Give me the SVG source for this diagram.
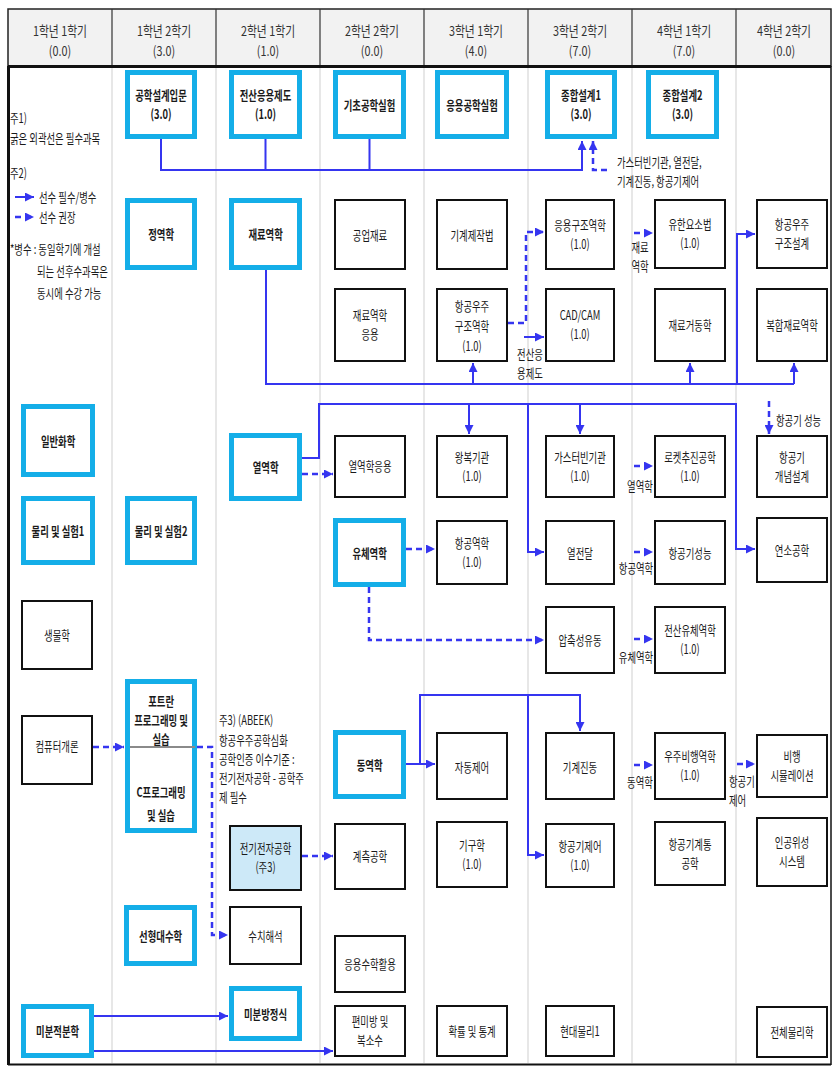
<svg xmlns="http://www.w3.org/2000/svg" width="832" height="1066" viewBox="0 0 832 1066">
<style>
.t{font-family:"Noto Sans CJK KR","Noto Sans",sans-serif;font-size:13px;fill:#1a1a1a;text-anchor:middle;transform-box:fill-box;transform-origin:center;transform:scaleX(0.72)}
.b{font-weight:700}
.h{font-size:13.5px;fill:#333;transform:scaleX(0.8)}
.l{text-anchor:start;transform-origin:left center}
.req{fill:#fff;stroke:#14aee8;stroke-width:5}
.opt{fill:#fff;stroke:#111;stroke-width:2}
.ee{fill:#cde9f8;stroke:#111;stroke-width:2}
.s{fill:none;stroke:#3535f0;stroke-width:2}
.d{fill:none;stroke:#3535f0;stroke-width:2.5;stroke-dasharray:6 4}
.a{marker-end:url(#ar)}
.sep{stroke:#cfcfcf;stroke-width:1}
</style>
<defs>
<marker id="ar" markerUnits="userSpaceOnUse" markerWidth="9" markerHeight="9" refX="9" refY="4.5" orient="auto">
<path d="M0,0 L9,4.5 L0,9 z" fill="#3535f0"/>
</marker>
</defs>

<g id="frame">
<rect x="8" y="9" width="823" height="57" fill="#f2f2f2" stroke="#222" stroke-width="1.5"/>
<g stroke="#333" stroke-width="1.2">
<line x1="112" y1="9" x2="112" y2="66"/><line x1="216" y1="9" x2="216" y2="66"/><line x1="320" y1="9" x2="320" y2="66"/><line x1="424" y1="9" x2="424" y2="66"/><line x1="528" y1="9" x2="528" y2="66"/><line x1="632" y1="9" x2="632" y2="66"/><line x1="736" y1="9" x2="736" y2="66"/>
</g>
<g class="sep">
<line x1="112" y1="68" x2="112" y2="1063"/><line x1="216" y1="68" x2="216" y2="1063"/><line x1="320" y1="68" x2="320" y2="1063"/><line x1="424" y1="68" x2="424" y2="1063"/><line x1="528" y1="68" x2="528" y2="1063"/><line x1="632" y1="68" x2="632" y2="1063"/><line x1="736" y1="68" x2="736" y2="1063"/>
</g>
<line x1="8" y1="66.5" x2="831" y2="66.5" stroke="#111" stroke-width="3"/>
<line x1="8.5" y1="66" x2="8.5" y2="1065" stroke="#111" stroke-width="3"/>
<line x1="8" y1="1064.5" x2="831" y2="1064.5" stroke="#111" stroke-width="2"/>
<line x1="831" y1="66" x2="831" y2="1065" stroke="#111" stroke-width="1.5"/>
</g>

<g id="header">
<text class="t h" x="60" y="36">1학년 1학기</text><text class="t h" x="60" y="56">(0.0)</text>
<text class="t h" x="164" y="36">1학년 2학기</text><text class="t h" x="164" y="56">(3.0)</text>
<text class="t h" x="268" y="36">2학년 1학기</text><text class="t h" x="268" y="56">(1.0)</text>
<text class="t h" x="372" y="36">2학년 2학기</text><text class="t h" x="372" y="56">(0.0)</text>
<text class="t h" x="476" y="36">3학년 1학기</text><text class="t h" x="476" y="56">(4.0)</text>
<text class="t h" x="580" y="36">3학년 2학기</text><text class="t h" x="580" y="56">(7.0)</text>
<text class="t h" x="684" y="36">4학년 1학기</text><text class="t h" x="684" y="56">(7.0)</text>
<text class="t h" x="784" y="36">4학년 2학기</text><text class="t h" x="784" y="56">(0.0)</text>
</g>

<g id="notes">
<text class="t l" x="10" y="123">주1)</text>
<text class="t l" x="10" y="143">굵은 외곽선은 필수과목</text>
<text class="t l" x="10" y="178">주2)</text>
<line class="s a" x1="15" y1="197" x2="34" y2="197"/>
<text class="t l" x="39" y="202">선수 필수/병수</text>
<line class="d a" x1="15" y1="217" x2="34" y2="217"/>
<text class="t l" x="39" y="222">선수 권장</text>
<text class="t l" x="10" y="254">*병수 : 동일학기에 개설</text>
<text class="t l" x="37" y="276">되는 선후수과목은</text>
<text class="t l" x="37" y="298">동시에 수강 가능</text>
<text class="t l" x="219" y="725">주3)  (ABEEK)</text>
<text class="t l" x="219" y="745">항공우주공학심화</text>
<text class="t l" x="219" y="764">공학인증 이수기준 :</text>
<text class="t l" x="219" y="783">전기전자공학 - 공학주</text>
<text class="t l" x="219" y="802">제 필수</text>
</g>

<g id="connectors">
<path class="s a" d="M161,139 V170 H582 V141"/>
<path class="s" d="M265.5,139 V170 M369.5,139 V170"/>
<path class="d a" d="M607,170 H593 V141"/>
<path class="d a" d="M508,323 H526 V232 H544"/>
<path class="s a" d="M524,337 H544"/>
<path class="s" d="M266,270 V384 H794"/>
<path class="s a" d="M473,384 V363"/>
<path class="s a" d="M690,384 V363"/>
<path class="s a" d="M794,384 V363"/>
<path class="s a" d="M737,384 V234 H755"/>
<path class="d a" d="M634,233 H653"/>
<path class="s a" d="M302,458 H319 V404 H736 V549 H755"/>
<path class="s a" d="M469,404 V434"/>
<path class="s a" d="M580,404 V434"/>
<path class="s a" d="M528,404 V552 H544"/>
<path class="d a" d="M302,474 H333"/>
<path class="d a" d="M769,401 V434"/>
<path class="d a" d="M634,466 H653"/>
<path class="d a" d="M406,549 H435"/>
<path class="d a" d="M369,587 V640 H544"/>
<path class="d a" d="M634,552 H653"/>
<path class="d a" d="M634,639 H653"/>
<path class="s a" d="M406,764 H435"/>
<path class="s a" d="M420,764 V695 H580 V731"/>
<path class="s a" d="M528,695 V855 H544"/>
<path class="d a" d="M634,765 H653"/>
<path class="d a" d="M737,764 H755"/>
<path class="d a" d="M93,747 H124"/>
<path class="d a" d="M197,747 H212 V935 H228"/>
<path class="d a" d="M302,856 H333"/>
<path class="s a" d="M94,1016 H228"/>
<path class="s a" d="M94,1051 H333"/>
<text class="t l" x="617" y="167">가스터빈기관, 열전달,</text>
<text class="t l" x="617" y="186">기계진동, 항공기제어</text>
<text class="t" x="530" y="359">전산응</text>
<text class="t" x="530" y="378">용제도</text>
<text class="t" x="640" y="252">재료</text>
<text class="t" x="640" y="271">역학</text>
<text class="t l" x="776" y="425">항공기 성능</text>
<text class="t" x="640" y="491">열역학</text>
<text class="t" x="636" y="573">항공역학</text>
<text class="t" x="636" y="662">유체역학</text>
<text class="t" x="640" y="787">동역학</text>
<text class="t l" x="729" y="786">항공기</text>
<text class="t l" x="729" y="805">제어</text>
</g>

<g id="n-design-intro"><rect class="req" x="127.5" y="72.5" width="67" height="64"/><text class="t b" x="161" y="100">공학설계입문</text><text class="t b" x="161" y="119">(3.0)</text></g>
<g id="n-cad-drafting"><rect class="req" x="231.5" y="72.5" width="68" height="64"/><text class="t b" x="265.5" y="100">전산응용제도</text><text class="t b" x="265.5" y="119">(1.0)</text></g>
<g id="n-basic-lab"><rect class="req" x="335.5" y="72.5" width="68" height="64"/><text class="t b" x="369.5" y="110">기초공학실험</text></g>
<g id="n-applied-lab"><rect class="req" x="437.5" y="72.5" width="69" height="64"/><text class="t b" x="472" y="110">응용공학실험</text></g>
<g id="n-capstone1"><rect class="req" x="547.5" y="72.5" width="67" height="64"/><text class="t b" x="581" y="100">종합설계1</text><text class="t b" x="581" y="119">(3.0)</text></g>
<g id="n-capstone2"><rect class="req" x="648.5" y="72.5" width="68" height="64"/><text class="t b" x="682.5" y="100">종합설계2</text><text class="t b" x="682.5" y="119">(3.0)</text></g>
<g id="n-statics"><rect class="req" x="127.5" y="200.5" width="67" height="67"/><text class="t b" x="161" y="239.5">정역학</text></g>
<g id="n-mom"><rect class="req" x="231.5" y="200.5" width="68" height="67"/><text class="t b" x="265.5" y="239.5">재료역학</text></g>
<g id="n-chem"><rect class="req" x="23.5" y="406.5" width="69" height="68"/><text class="t b" x="58" y="446">일반화학</text></g>
<g id="n-thermo"><rect class="req" x="231.5" y="435.5" width="68" height="63"/><text class="t b" x="265.5" y="472.5">열역학</text></g>
<g id="n-phys1"><rect class="req" x="23.5" y="498.5" width="69" height="64"/><text class="t b" x="58" y="536">물리 및 실험1</text></g>
<g id="n-phys2"><rect class="req" x="127.5" y="498.5" width="67" height="64"/><text class="t b" x="161" y="536">물리 및 실험2</text></g>
<g id="n-fluid"><rect class="req" x="335.5" y="520.5" width="68" height="64"/><text class="t b" x="369.5" y="558">유체역학</text></g>
<g id="n-programming"><rect class="req" x="127.5" y="681.5" width="67" height="149"/><line x1="130" y1="747" x2="195" y2="747" stroke="#8a8a8a" stroke-width="2"/><text class="t b" x="161" y="706">포트란</text><text class="t b" x="161" y="725">프로그래밍 및</text><text class="t b" x="161" y="744">실습</text><text class="t b" x="161" y="797">C프로그래밍</text><text class="t b" x="161" y="820">및 실습</text></g>
<g id="n-dynamics"><rect class="req" x="335.5" y="732.5" width="68" height="64"/><text class="t b" x="369.5" y="770">동역학</text></g>
<g id="n-linalg"><rect class="req" x="126.5" y="907.5" width="68" height="56"/><text class="t b" x="160.5" y="941">선형대수학</text></g>
<g id="n-diffeq"><rect class="req" x="231.5" y="988.5" width="68" height="50"/><text class="t b" x="265.5" y="1019">미분방정식</text></g>
<g id="n-calculus"><rect class="req" x="23.5" y="1006.5" width="68" height="49"/><text class="t b" x="57.5" y="1036.5">미분적분학</text></g>

<g id="n-materials"><rect class="opt" x="335" y="200" width="70" height="69"/><text class="t" x="370" y="240">공업재료</text></g>
<g id="n-manufacturing"><rect class="opt" x="437" y="200" width="70" height="69"/><text class="t" x="472" y="240">기계제작법</text></g>
<g id="n-applied-struct"><rect class="opt" x="546" y="200" width="68" height="69"/><text class="t" x="580" y="230">응용구조역학</text><text class="t" x="580" y="249">(1.0)</text></g>
<g id="n-fem"><rect class="opt" x="655" y="200" width="70" height="68"/><text class="t" x="690" y="229.5">유한요소법</text><text class="t" x="690" y="248.5">(1.0)</text></g>
<g id="n-struct-design"><rect class="opt" x="757" y="200" width="70" height="68"/><text class="t" x="792" y="229.5">항공우주</text><text class="t" x="792" y="248.5">구조설계</text></g>
<g id="n-mom-app"><rect class="opt" x="335" y="289" width="70" height="72"/><text class="t" x="370" y="320.5">재료역학</text><text class="t" x="370" y="339.5">응용</text></g>
<g id="n-aero-struct"><rect class="opt" x="437" y="289" width="70" height="72"/><text class="t" x="472" y="311">항공우주</text><text class="t" x="472" y="331">구조역학</text><text class="t" x="472" y="351">(1.0)</text></g>
<g id="n-cadcam"><rect class="opt" x="546" y="289" width="68" height="72"/><text class="t" x="580" y="320.5">CAD/CAM</text><text class="t" x="580" y="339.5">(1.0)</text></g>
<g id="n-mat-behavior"><rect class="opt" x="655" y="289" width="70" height="72"/><text class="t" x="690" y="330">재료거동학</text></g>
<g id="n-composites"><rect class="opt" x="757" y="289" width="70" height="72"/><text class="t" x="792" y="330">복합재료역학</text></g>
<g id="n-thermo-app"><rect class="opt" x="335" y="436" width="70" height="61"/><text class="t" x="370" y="471.5">열역학응용</text></g>
<g id="n-recip"><rect class="opt" x="437" y="436" width="70" height="61"/><text class="t" x="472" y="462">왕복기관</text><text class="t" x="472" y="481">(1.0)</text></g>
<g id="n-gasturbine"><rect class="opt" x="546" y="436" width="68" height="61"/><text class="t" x="580" y="462">가스터빈기관</text><text class="t" x="580" y="481">(1.0)</text></g>
<g id="n-rocket"><rect class="opt" x="655" y="436" width="70" height="61"/><text class="t" x="690" y="462">로켓추진공학</text><text class="t" x="690" y="481">(1.0)</text></g>
<g id="n-concept-design"><rect class="opt" x="757" y="436" width="70" height="61"/><text class="t" x="792" y="462">항공기</text><text class="t" x="792" y="481">개념설계</text></g>
<g id="n-aerodynamics"><rect class="opt" x="437" y="521" width="70" height="63"/><text class="t" x="472" y="548">항공역학</text><text class="t" x="472" y="567">(1.0)</text></g>
<g id="n-heat"><rect class="opt" x="546" y="521" width="68" height="63"/><text class="t" x="580" y="558">열전달</text></g>
<g id="n-performance"><rect class="opt" x="655" y="521" width="70" height="63"/><text class="t" x="690" y="558">항공기성능</text></g>
<g id="n-combustion"><rect class="opt" x="757" y="518" width="70" height="64"/><text class="t" x="792" y="555">연소공학</text></g>
<g id="n-biology"><rect class="opt" x="22" y="601" width="70" height="68"/><text class="t" x="57" y="640">생물학</text></g>
<g id="n-compressible"><rect class="opt" x="546" y="607" width="68" height="66"/><text class="t" x="580" y="645">압축성유동</text></g>
<g id="n-cfd"><rect class="opt" x="655" y="607" width="70" height="66"/><text class="t" x="690" y="635.5">전산유체역학</text><text class="t" x="690" y="654.5">(1.0)</text></g>
<g id="n-computer"><rect class="opt" x="22" y="716" width="70" height="68"/><text class="t" x="57" y="751">컴퓨터개론</text></g>
<g id="n-control"><rect class="opt" x="437" y="733" width="70" height="66"/><text class="t" x="472" y="772">자동제어</text></g>
<g id="n-vibration"><rect class="opt" x="546" y="733" width="68" height="66"/><text class="t" x="580" y="772">기계진동</text></g>
<g id="n-space-flight"><rect class="opt" x="655" y="733" width="70" height="66"/><text class="t" x="690" y="761.5">우주비행역학</text><text class="t" x="690" y="780.5">(1.0)</text></g>
<g id="n-flight-sim"><rect class="opt" x="757" y="735" width="70" height="62"/><text class="t" x="792" y="761.5">비행</text><text class="t" x="792" y="780.5">시뮬레이션</text></g>
<g id="n-electrical"><rect class="ee" x="230" y="826" width="71" height="64"/><text class="t" x="265.5" y="853.5">전기전자공학</text><text class="t" x="265.5" y="872.5">(주3)</text></g>
<g id="n-measurement"><rect class="opt" x="335" y="824" width="70" height="65"/><text class="t" x="370" y="861.5">계측공학</text></g>
<g id="n-kinematics"><rect class="opt" x="437" y="822" width="70" height="65"/><text class="t" x="472" y="850">기구학</text><text class="t" x="472" y="869">(1.0)</text></g>
<g id="n-flight-control"><rect class="opt" x="546" y="824" width="68" height="63"/><text class="t" x="580" y="851">항공기제어</text><text class="t" x="580" y="870">(1.0)</text></g>
<g id="n-systems"><rect class="opt" x="655" y="822" width="70" height="63"/><text class="t" x="690" y="849">항공기계통</text><text class="t" x="690" y="868">공학</text></g>
<g id="n-satellite"><rect class="opt" x="757" y="818" width="70" height="68"/><text class="t" x="792" y="847.5">인공위성</text><text class="t" x="792" y="866.5">시스템</text></g>
<g id="n-numerical"><rect class="opt" x="230" y="907" width="71" height="57"/><text class="t" x="265.5" y="941">수치해석</text></g>
<g id="n-applied-math"><rect class="opt" x="335" y="936" width="70" height="56"/><text class="t" x="370" y="969.5">응용수학활용</text></g>
<g id="n-pde"><rect class="opt" x="335" y="1006" width="70" height="50"/><text class="t" x="370" y="1026.5">편미방 및</text><text class="t" x="370" y="1045.5">복소수</text></g>
<g id="n-probability"><rect class="opt" x="437" y="1006" width="70" height="50"/><text class="t" x="472" y="1036.5">확률 및 통계</text></g>
<g id="n-modern-physics"><rect class="opt" x="546" y="1006" width="68" height="50"/><text class="t" x="580" y="1036.5">현대물리1</text></g>
<g id="n-general-physics"><rect class="opt" x="757" y="1007" width="70" height="50"/><text class="t" x="792" y="1037.5">전체물리학</text></g>
</svg>
